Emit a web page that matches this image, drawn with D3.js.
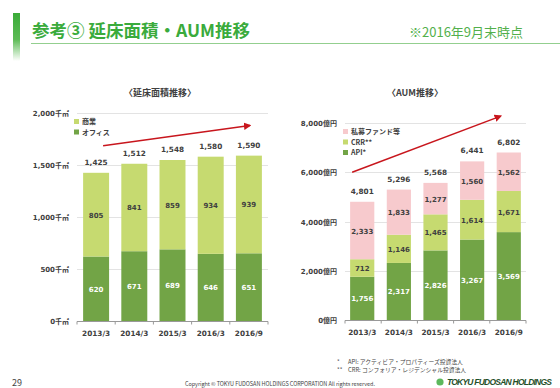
<!DOCTYPE html>
<html lang="ja">
<head>
<meta charset="utf-8">
<script src="https://cdn.jsdelivr.net/npm/d3@7"></script>
<style>
  body { margin: 0; background: #fff; }
  svg { display: block; font-family: "Noto Sans CJK JP", "Noto Sans", sans-serif; }
</style>
</head>
<body>
<script>
var W = 560, H = 388;

// data
var years = ["2013/3", "2014/3", "2015/3", "2016/3", "2016/9"];
var office = [620, 671, 689, 646, 651];
var commercial = [805, 841, 859, 934, 939];
var areaTotal = [1425, 1512, 1548, 1580, 1590];
var areaTicks = [0, 500, 1000, 1500, 2000];

var api = [1756, 2317, 2826, 3267, 3569];
var crr = [712, 1146, 1465, 1614, 1671];
var privateFund = [2333, 1833, 1277, 1560, 1562];
var aumTotal = [4801, 5296, 5568, 6441, 6802];
var aumTicks = [0, 2000, 4000, 6000, 8000];

var cDark = "#72a446", cLight = "#c6da70", cPink = "#f7cacd", cRed = "#c8161d";
var numFont = "\"DejaVu Sans\", Verdana, \"Noto Sans CJK JP\", sans-serif";
var fmt = d3.format(",");

var svg = d3.select("body").append("svg").attr("width", W).attr("height", H);

// header
var defs = svg.append("defs");
var grad = defs.append("linearGradient")
  .attr("id", "hg").attr("x1", 0).attr("y1", 0).attr("x2", 0).attr("y2", 1);
grad.append("stop").attr("offset", "0%").attr("stop-color", "#3aab38");
grad.append("stop").attr("offset", "55%").attr("stop-color", "#5cbb55");
grad.append("stop").attr("offset", "100%").attr("stop-color", "#ffffff");
svg.append("rect").attr("x", 13).attr("y", 13).attr("width", 7).attr("height", 48).attr("fill", "url(#hg)");
svg.append("text").attr("x", 32).attr("y", 37)
  .attr("font-size", 17.5).attr("font-weight", "bold").attr("fill", "#3aab3c")
  .text("参考③ 延床面積・AUM推移");
svg.append("line").attr("x1", 31).attr("x2", 560).attr("y1", 43.5).attr("y2", 43.5)
  .attr("stroke", "#93cf8f").attr("stroke-width", 1.2);
svg.append("text").attr("x", 409).attr("y", 37)
  .attr("font-size", 13).attr("fill", "#52b04c").text("※2016年9月末時点");

defs.append("marker")
  .attr("id", "arrow").attr("viewBox", "0 0 10 10").attr("refX", 8).attr("refY", 5)
  .attr("markerWidth", 5).attr("markerHeight", 5).attr("orient", "auto")
  .append("path").attr("d", "M0,0 L10,5 L0,10 z").attr("fill", cRed);

function drawChart(o) {
  var g = svg.append("g");
  var x = d3.scaleBand().domain(years).range(o.xr).paddingInner(o.pi).paddingOuter(o.po);
  var y = d3.scaleLinear().domain([0, o.ticks[o.ticks.length - 1]]).range(o.yr);

  g.append("text").attr("x", o.titleX).attr("y", 96).attr("text-anchor", "middle")
    .attr("font-size", 9).attr("font-weight", "bold").attr("fill", "#404040").text(o.title);

  // grid + tick labels
  g.selectAll(".grid").data(o.ticks.slice(1)).enter().append("line")
    .attr("x1", o.xr[0]).attr("x2", o.xr[1])
    .attr("y1", function(d) { return Math.round(y(d)) + 0.5; })
    .attr("y2", function(d) { return Math.round(y(d)) + 0.5; })
    .attr("stroke", "#e3e3e3");
  g.selectAll(".tl").data(o.ticks).enter().append("text")
    .attr("x", o.xr[0] - 8).attr("y", function(d) { return y(d) + 3; })
    .attr("text-anchor", "end").attr("font-size", 7).attr("font-weight", "bold").attr("fill", "#404040")
    .attr("font-family", numFont)
    .text(function(d) { return fmt(d) + o.unit; });

  // stacked bars
  var base = years.map(function() { return 0; });
  o.series.forEach(function(s) {
    var bars = g.append("g");
    s.values.forEach(function(v, i) {
      var y0 = base[i], y1 = base[i] + v;
      bars.append("rect").attr("x", x(years[i])).attr("width", x.bandwidth())
        .attr("y", y(y1)).attr("height", y(y0) - y(y1)).attr("fill", s.color);
      bars.append("text").attr("x", x(years[i]) + x.bandwidth() / 2).attr("y", y((y0 + y1) / 2) + 3)
        .attr("text-anchor", "middle").attr("font-size", 7).attr("font-weight", "bold")
        .attr("font-family", numFont).attr("fill", s.labelColor).text(fmt(v));
      base[i] = y1;
    });
  });

  // totals
  g.selectAll(".tot").data(o.totals).enter().append("text")
    .attr("x", function(d, i) { return x(years[i]) + x.bandwidth() / 2; })
    .attr("y", function(d) { return y(d) - 8; })
    .attr("text-anchor", "middle").attr("font-size", 7.3).attr("font-weight", "bold").attr("fill", "#404040")
    .attr("font-family", numFont)
    .text(fmt);

  // axis
  var axis = g.append("g").attr("transform", "translate(0," + (Math.round(y(0)) + 0.5) + ")")
    .call(d3.axisBottom(x).tickSize(0).tickPadding(9));
  axis.select(".domain").attr("stroke", "#999").attr("d", "M" + o.xr[0] + ",0H" + o.xr[1]);
  axis.selectAll("text").attr("font-size", 7.3).attr("font-weight", "bold").attr("fill", "#404040")
    .attr("font-family", numFont);
  var bounds = d3.range(years.length + 1).map(function(i) { return o.xr[0] + i * (o.xr[1] - o.xr[0]) / years.length; });
  axis.selectAll(".bt").data(bounds).enter().append("line")
    .attr("x1", function(d) { return d; }).attr("x2", function(d) { return d; })
    .attr("y1", 0).attr("y2", 3).attr("stroke", "#999");

  // legend
  var leg = g.append("g");
  o.legend.forEach(function(l, i) {
    leg.append("rect").attr("x", o.legX).attr("y", o.legY + i * 10.5 - 5).attr("width", 5).attr("height", 5).attr("fill", l.color);
    leg.append("text").attr("x", o.legX + 8).attr("y", o.legY + i * 10.5).attr("font-size", 7)
      .attr("font-weight", "bold").attr("fill", "#404040").text(l.name);
  });

  // trend arrow
  g.append("line")
    .attr("x1", x(years[0]) + o.arrow[0]).attr("y1", y(o.arrow[1]))
    .attr("x2", x(years[4]) + o.arrow[2]).attr("y2", y(o.arrow[3]))
    .attr("stroke", cRed).attr("stroke-width", 1.5).attr("marker-end", "url(#arrow)");
}

drawChart({
  title: "〈延床面積推移〉", titleX: 160, unit: "千㎡",
  xr: [77, 268], yr: [321, 113], pi: 0.32, po: 0.16, ticks: areaTicks,
  series: [
    { values: office, color: cDark, labelColor: "#fff" },
    { values: commercial, color: cLight, labelColor: "#404040" }
  ],
  totals: areaTotal,
  legX: 74, legY: 124,
  legend: [{ name: "商業", color: cLight }, { name: "オフィス", color: cDark }],
  arrow: [20, 1685, 14, 1880]
});

drawChart({
  title: "〈AUM推移〉", titleX: 415, unit: "億円",
  xr: [345, 526], yr: [320, 123], pi: 0.34, po: 0.14, ticks: aumTicks,
  series: [
    { values: api, color: cDark, labelColor: "#fff" },
    { values: crr, color: cLight, labelColor: "#404040" },
    { values: privateFund, color: cPink, labelColor: "#404040" }
  ],
  totals: aumTotal,
  legX: 343, legY: 134,
  legend: [{ name: "私募ファンド等", color: cPink }, { name: "CRR**", color: cLight }, { name: "API*", color: cDark }],
  arrow: [2, 6000, 4, 8280]
});

// footnotes + footer
var notes = [["*", "API: アクティビア・プロパティーズ投資法人"], ["**", "CRR: コンフォリア・レジデンシャル投資法人"]];
notes.forEach(function(n, i) {
  svg.append("text").attr("x", 337).attr("y", 364 + i * 8).attr("font-size", 5.8).attr("fill", "#444").text(n[0]);
  svg.append("text").attr("x", 348).attr("y", 364 + i * 8).attr("font-size", 5.8).attr("fill", "#444").text(n[1]);
});
svg.append("text").attr("x", 12).attr("y", 386).attr("font-size", 9).attr("fill", "#444").text("29");
svg.append("text").attr("x", 280).attr("y", 386).attr("text-anchor", "middle").attr("font-size", 5.5)
  .attr("fill", "#444").attr("textLength", 190)
  .text("Copyright © TOKYU FUDOSAN HOLDINGS CORPORATION All rights reserved.");
svg.append("circle").attr("cx", 440).attr("cy", 382).attr("r", 3.6).attr("fill", "#5cb85c");
svg.append("text").attr("x", 447).attr("y", 385).attr("font-size", 8.5).attr("font-weight", "900")
  .attr("font-style", "italic").attr("fill", "#1f4f2a").attr("textLength", 105)
  .attr("font-family", "\"Liberation Sans\", \"DejaVu Sans\", sans-serif").text("TOKYU FUDOSAN HOLDINGS");
</script>
</body>
</html>
